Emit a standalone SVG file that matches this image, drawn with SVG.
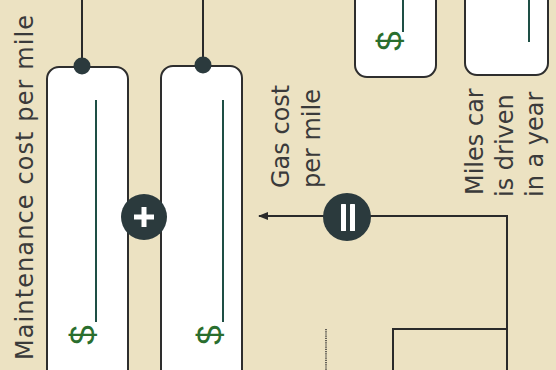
<svg xmlns="http://www.w3.org/2000/svg" width="556" height="370" viewBox="0 0 556 370">
  <defs>
    <style>
      .bg { fill: #ece2c2; }
      .box { fill: #ffffff; stroke: #2e2e2e; stroke-width: 2; }
      .ln { stroke: #2a2a2a; stroke-width: 2; fill: none; }
      .blank { stroke: #1e4f45; stroke-width: 2; }
      .dot { fill: #2b3a3d; }
      .op { fill: #2b3a3d; }
      .opmark { fill: #ffffff; }
      .lbl { font-family: "DejaVu Sans", "Liberation Sans", sans-serif; font-size: 24px; fill: #3a3a3a; }
      .dollar { font-family: "Liberation Sans", "DejaVu Sans", sans-serif; font-size: 35px; fill: #2a6e2e; }
    </style>
    <marker id="arrow" viewBox="0 0 10 8" refX="9" refY="4" markerWidth="10" markerHeight="8" markerUnits="userSpaceOnUse" orient="auto">
      <path d="M0,0 L10,4 L0,8 Z" fill="#2a2a2a"/>
    </marker>
  </defs>

  <rect class="bg" x="0" y="0" width="556" height="370"/>

  <g id="connectors">
    <line class="ln" x1="82" y1="0" x2="82" y2="66"/>
    <line class="ln" x1="203" y1="0" x2="203" y2="65"/>
    <path class="ln" d="M507,372 L507,216 L259,216" marker-end="url(#arrow)"/>
    <path class="ln" d="M393,372 L393,329 L507,329"/>
    <line x1="326" y1="329" x2="326" y2="370" stroke="#333" stroke-width="1.5" stroke-dasharray="1.2 1"/>
  </g>

  <g id="label-maintenance">
    <text class="lbl" transform="translate(33,360) rotate(-90)" textLength="345" lengthAdjust="spacing">Maintenance cost per mile</text>
  </g>

  <g id="box-maintenance">
    <rect class="box" x="47" y="67" width="81" height="320" rx="12" ry="12"/>
    <line class="blank" x1="96" y1="100" x2="96" y2="322"/>
    <text class="dollar" text-anchor="middle" transform="translate(95,335) rotate(-90)">$</text>
    <circle class="dot" cx="82" cy="66" r="8.5"/>
  </g>

  <g id="box-gas">
    <rect class="box" x="161" y="66" width="81" height="320" rx="12" ry="12"/>
    <line class="blank" x1="223" y1="100" x2="223" y2="322"/>
    <text class="dollar" text-anchor="middle" transform="translate(222,335) rotate(-90)">$</text>
    <circle class="dot" cx="203" cy="65" r="8.5"/>
  </g>

  <g id="op-plus">
    <circle class="op" cx="144" cy="217" r="23"/>
    <rect class="opmark" x="134" y="214.5" width="20" height="5"/>
    <rect class="opmark" x="141.5" y="207" width="5" height="20"/>
  </g>

  <g id="op-equals">
    <circle class="op" cx="347" cy="217" r="24"/>
    <rect class="opmark" x="341" y="204" width="5" height="27" rx="0.5"/>
    <rect class="opmark" x="350" y="204" width="5" height="27" rx="0.5"/>
  </g>

  <g id="label-gas">
    <text class="lbl" transform="translate(289,188) rotate(-90)">Gas cost</text>
    <text class="lbl" transform="translate(320,188) rotate(-90)">per mile</text>
  </g>

  <g id="box-cost-top">
    <rect class="box" x="355" y="-30" width="81" height="107" rx="12" ry="12"/>
    <line class="blank" x1="403" y1="0" x2="403" y2="32"/>
    <text class="dollar" text-anchor="middle" transform="translate(402,41) rotate(-90)">$</text>
  </g>

  <g id="box-miles">
    <rect class="box" x="465" y="-30" width="83" height="105" rx="12" ry="12"/>
    <line class="blank" x1="529" y1="0" x2="529" y2="42"/>
  </g>

  <g id="label-miles">
    <text class="lbl" transform="translate(483,195) rotate(-90)">Miles car</text>
    <text class="lbl" transform="translate(513,197) rotate(-90)">is driven</text>
    <text class="lbl" transform="translate(543,197) rotate(-90)">in a year</text>
  </g>
</svg>
